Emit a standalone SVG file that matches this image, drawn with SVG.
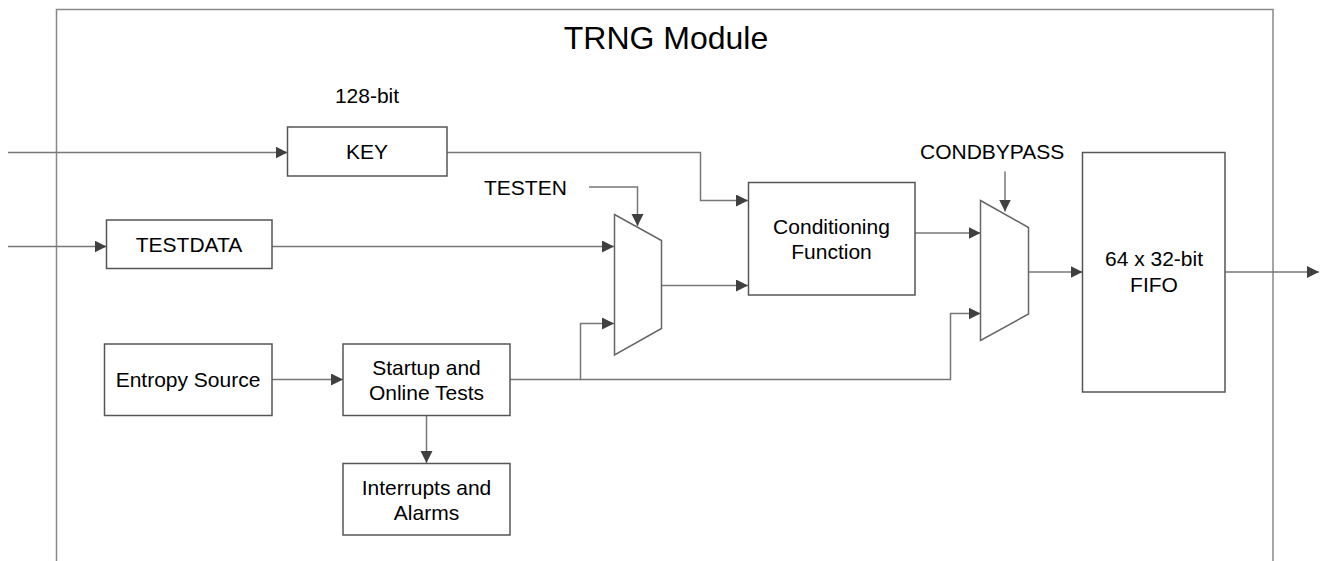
<svg xmlns="http://www.w3.org/2000/svg" width="1320" height="561" viewBox="0 0 1320 561">
<defs>
<marker id="arr" markerUnits="userSpaceOnUse" markerWidth="13" markerHeight="13" refX="12" refY="6" orient="auto">
<path d="M0,0 L12,6 L0,12 z" fill="#404040"/>
</marker>
<style>
.box{fill:#fff;stroke:#555;stroke-width:1.5}
.frame{fill:none;stroke:#888;stroke-width:1.5}
.mux{fill:#fff;stroke:#666;stroke-width:1.5}
.wire{fill:none;stroke:#777;stroke-width:1.5;marker-end:url(#arr)}
text{font-family:"Liberation Sans",Arial,sans-serif;font-size:21px;fill:#000}
.c{text-anchor:middle}
.title{font-size:32px}
</style>
</defs>
<rect width="1320" height="561" fill="#fff"/>
<g id="module">
<rect class="frame" x="56.5" y="9.5" width="1216.5" height="600"/>
<text class="title c" x="666" y="48.5">TRNG Module</text>
</g>
<g id="connectors">
<path class="wire" d="M8,152.5 H287.5"/>
<path class="wire" d="M8,246.5 H106.5"/>
<path class="wire" d="M447,152.5 H700.5 V200.5 H748"/>
<path class="wire" d="M272,246.5 H614"/>
<path class="wire" d="M589,187 H637.5 V226"/>
<path class="wire" d="M661.5,285.5 H748"/>
<path class="wire" d="M272,379.5 H343"/>
<path class="wire" d="M426.5,415.5 V463"/>
<path class="wire" d="M510,379.5 H580.5 V323.5 H614"/>
<path class="wire" d="M580.5,379.5 H950.5 V313.5 H980.5"/>
<path class="wire" d="M915,233 H980.5"/>
<path class="wire" d="M1005,171.5 V211.5"/>
<path class="wire" d="M1028.5,272 H1082.5"/>
<path class="wire" d="M1225,272 H1319"/>
</g>
<g id="key">
<text class="c" x="367" y="103">128-bit</text>
<rect class="box" x="287.5" y="127" width="159.5" height="49"/>
<text class="c" x="367" y="158.5">KEY</text>
</g>
<g id="testdata">
<rect class="box" x="106.5" y="220" width="165.5" height="48.5"/>
<text class="c" x="189" y="251.5">TESTDATA</text>
</g>
<g id="testen">
<text x="484" y="195">TESTEN</text>
</g>
<g id="mux1">
<polygon class="mux" points="614.5,214.5 661.5,240.5 661.5,328.5 614.5,355"/>
</g>
<g id="conditioning">
<rect class="box" x="748.5" y="182.5" width="166.5" height="112.5"/>
<text class="c" x="831.5" y="234">Conditioning</text>
<text class="c" x="831.5" y="259">Function</text>
</g>
<g id="condbypass">
<text x="920" y="158.5">CONDBYPASS</text>
</g>
<g id="mux2">
<polygon class="mux" points="980.5,200.5 1028.5,227.5 1028.5,314 980.5,340.5"/>
</g>
<g id="fifo">
<rect class="box" x="1082.5" y="152.5" width="142.5" height="239.5"/>
<text class="c" x="1154" y="266">64 x 32-bit</text>
<text class="c" x="1154" y="291.5">FIFO</text>
</g>
<g id="entropy">
<rect class="box" x="104.5" y="344" width="167.5" height="71.5"/>
<text class="c" x="188" y="386.5">Entropy Source</text>
</g>
<g id="startup">
<rect class="box" x="343" y="344" width="167" height="71.5"/>
<text class="c" x="426.5" y="375">Startup and</text>
<text class="c" x="426.5" y="400">Online Tests</text>
</g>
<g id="interrupts">
<rect class="box" x="343" y="463.5" width="167" height="71.5"/>
<text class="c" x="426.5" y="494.5">Interrupts and</text>
<text class="c" x="426.5" y="519.5">Alarms</text>
</g>
</svg>
